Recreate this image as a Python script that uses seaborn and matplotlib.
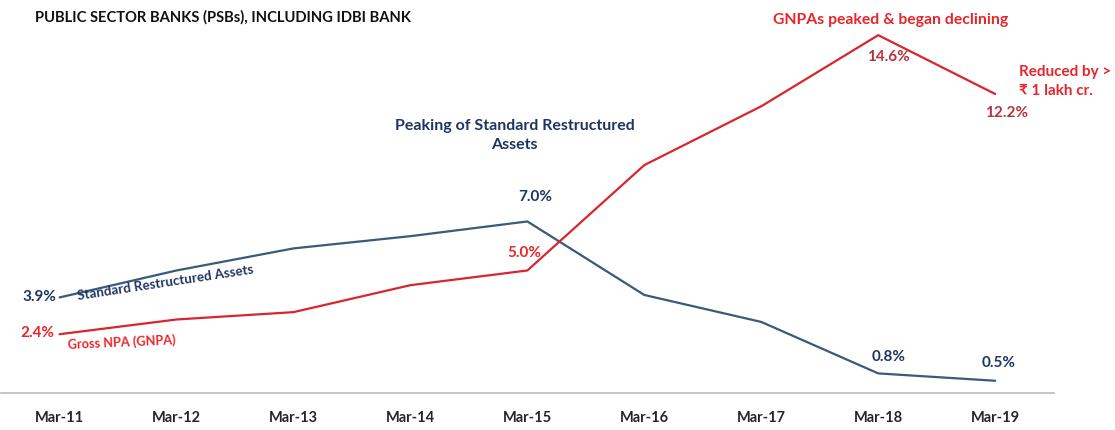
import matplotlib
matplotlib.use("Agg")
import matplotlib.pyplot as plt
import seaborn as sns
import pandas as pd

# data (% of advances)
years = ["Mar-11", "Mar-12", "Mar-13", "Mar-14", "Mar-15",
         "Mar-16", "Mar-17", "Mar-18", "Mar-19"]
std_restructured = [3.9, 5.0, 5.9, 6.4, 7.0, 4.0, 2.9, 0.8, 0.5]
gross_npa = [2.4, 3.0, 3.3, 4.4, 5.0, 9.3, 11.7, 14.6, 12.2]

BLUE_LINE = "#3a5a7c"
BLUE_TEXT = "#1f3463"
RED_LINE = "#d8262e"
RED_TEXT = "#e8252b"
DARK_RED = "#b8323a"


def main():
    sns.set_style("white")
    plt.rcParams["font.family"] = ["Lato", "DejaVu Sans"]

    df = pd.DataFrame({
        "year": years * 2,
        "pos": list(range(len(years))) * 2,
        "value": std_restructured + gross_npa,
        "series": ["Standard Restructured Assets"] * len(years)
                  + ["Gross NPA (GNPA)"] * len(years),
    })

    fig = plt.figure(figsize=(11.15, 4.3), dpi=100)
    ax = fig.add_axes([0.001, 0.086, 0.944, 0.912])

    sns.lineplot(data=df, x="pos", y="value", hue="series",
                 palette={"Standard Restructured Assets": BLUE_LINE,
                          "Gross NPA (GNPA)": RED_LINE},
                 linewidth=1.6, legend=False, ax=ax)

    ax.set_xlim(-0.5, len(years) - 0.5)
    ax.set_ylim(0, 16)
    ax.set_xlabel("")
    ax.set_ylabel("")
    ax.set_yticks([])
    ax.set_xticks([i + 0.5 for i in range(len(years))])
    ax.set_xticklabels([])
    ax.set_xticks(range(len(years)), minor=True)
    ax.set_xticklabels(years, minor=True, fontsize=10.5, fontweight="bold")
    ax.tick_params(axis="x", which="major", length=4, color="#bbbbbb", width=1)
    ax.tick_params(axis="x", which="minor", length=0, pad=13)
    for side in ["top", "left", "right"]:
        ax.spines[side].set_visible(False)
    ax.spines["bottom"].set_color("#bbbbbb")
    ax.spines["bottom"].set_linewidth(1.2)

    # value labels next to points
    def label(i, vals, dx, dy, color, ha="center"):
        ax.annotate(f"{vals[i]:.1f}%", (i, vals[i]), xytext=(dx, dy),
                    textcoords="offset pixels", ha=ha, va="center",
                    fontsize=11, fontweight="bold", color=color)

    label(0, std_restructured, -3, 0, BLUE_TEXT, ha="right")
    label(4, std_restructured, 8, 24, BLUE_TEXT)
    label(7, std_restructured, 10, 16, BLUE_TEXT)
    label(8, std_restructured, 3, 18, BLUE_TEXT)
    label(0, gross_npa, -5, 1, RED_TEXT, ha="right")
    label(4, gross_npa, -3, 17, RED_TEXT)
    label(7, gross_npa, 10, -22, DARK_RED)
    label(8, gross_npa, 11, -19, DARK_RED)

    # series names along the lines
    ax.text(0.16, 3.72, "Standard Restructured Assets", rotation=8.6,
            rotation_mode="anchor", ha="left", va="bottom",
            fontsize=9.6, fontweight="bold", color=BLUE_TEXT)
    ax.text(0.07, 1.7, "Gross NPA (GNPA)", rotation=2.5,
            rotation_mode="anchor", ha="left", va="bottom",
            fontsize=9.2, fontweight="bold", color=RED_TEXT)

    # callouts
    ax.text(3.89, 10.5, "Peaking of Standard Restructured\nAssets",
            ha="center", va="center", fontsize=11.5, fontweight="bold",
            color=BLUE_TEXT, linespacing=1.45)
    ax.text(7.11, 15.2, "GNPAs peaked & began declining", ha="center",
            va="center", fontsize=11.3, fontweight="bold", color=RED_TEXT)
    ax.text(8.2, 12.7, "Reduced by >\n\u20b9 1 lakh cr.", ha="left",
            va="center", fontsize=11, fontweight="bold", color=RED_TEXT,
            linespacing=1.5)

    fig.text(35 / 1115, 1 - 17 / 430,
             "PUBLIC SECTOR BANKS (PSBs), INCLUDING IDBI BANK",
             ha="left", va="center", fontsize=10.6, fontweight="bold",
             color="#111111")

    fig.savefig("out.png", dpi=100)


if __name__ == "__main__":
    main()
